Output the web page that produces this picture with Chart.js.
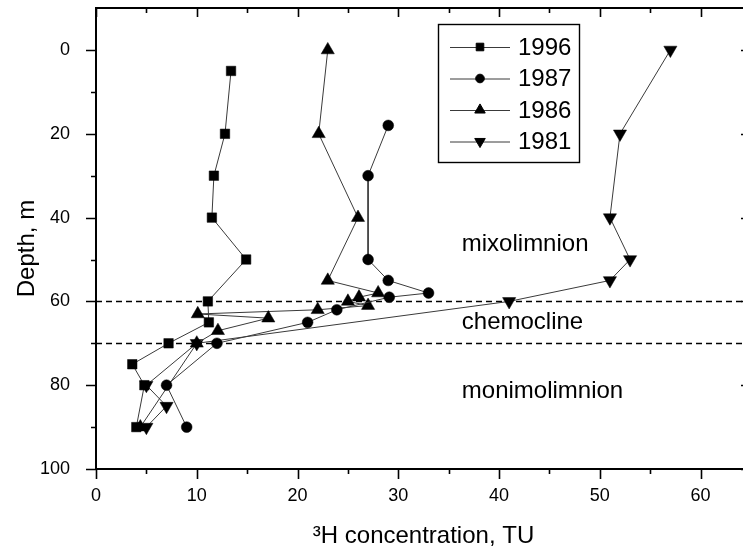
<!DOCTYPE html>
<html><head><meta charset="utf-8">
<script src="https://cdn.jsdelivr.net/npm/chart.js@4.4.1/dist/chart.umd.min.js"></script>
<style>
html,body{margin:0;padding:0;overflow:hidden;background:#fff;width:743px;height:554px}
#wrap{position:absolute;left:0;top:0;width:760px;height:554px}
</style>
</head><body><div id="wrap"><canvas id="c" width="760" height="554"></canvas></div>
<script>
// ---------- data ----------
const seriesLabels = ['1996', '1987', '1986', '1981'];

const depth1996 = [5, 20, 30, 40, 50, 60, 65, 70, 75, 80, 90];
const tu1996    = [13.4, 12.8, 11.7, 11.5, 14.9, 11.1, 11.2, 7.2, 3.6, 4.8, 4.0];

const depth1987 = [18, 30, 50, 55, 58, 59, 62, 65, 70, 80, 90];
const tu1987    = [29.0, 27.0, 27.0, 29.0, 33.0, 29.1, 23.9, 21.0, 12.0, 7.0, 9.0];

const depth1986 = [0, 20, 40, 55, 58, 59, 60, 61, 62, 63, 64, 67, 70, 90];
const tu1986    = [23.0, 22.1, 26.0, 23.0, 28.0, 26.1, 25.0, 27.0, 22.0, 10.1, 17.1, 12.1, 10.0, 4.4];

const depth1981 = [0, 20, 40, 50, 55, 60, 70, 80, 85, 90];
const tu1981    = [57.0, 52.0, 51.0, 53.0, 51.0, 41.0, 10.0, 5.0, 7.0, 5.0];

const xTickLabels = [0, 10, 20, 30, 40, 50, 60];
const yTickLabels = [0, 20, 40, 60, 80, 100];
const boundaryDepths = [60, 70];
const zoneNames = ['mixolimnion', 'chemocline', 'monimolimnion'];
const xTitle = '\u00B3H concentration, TU';
const yTitle = 'Depth, m';

// ---------- layout / style ----------
const FONT = 'Arial, "Liberation Sans", sans-serif';
const zonePlacement = [{x: 36.3, y: 48.0}, {x: 36.3, y: 66.7}, {x: 36.3, y: 83.1}];
const markerStyles = [
  {pointStyle: 'rect', radius: 6.7, rotation: 0},
  {pointStyle: 'circle', radius: 5.4, rotation: 0},
  {pointStyle: 'triangle', radius: 7.6, rotation: 0},
  {pointStyle: 'triangle', radius: 7.6, rotation: 180}
];

function pts(xs, ys) { return xs.map((v, i) => ({x: v, y: ys[i]})); }
const seriesData = [pts(tu1996, depth1996), pts(tu1987, depth1987), pts(tu1986, depth1986), pts(tu1981, depth1981)];

const datasets = seriesLabels.map((lab, i) => ({
  label: lab,
  data: seriesData[i],
  showLine: true,
  borderColor: '#3a3a3a',
  borderWidth: 1,
  backgroundColor: '#000',
  pointBackgroundColor: '#000',
  pointBorderColor: '#000',
  pointBorderWidth: 0.5,
  pointStyle: markerStyles[i].pointStyle,
  pointRadius: markerStyles[i].radius,
  pointRotation: markerStyles[i].rotation,
  pointHoverRadius: markerStyles[i].radius,
  tension: 0
}));

function noPad(s) { s.paddingTop = 0; s.paddingBottom = 0; s.paddingLeft = 0; s.paddingRight = 0; }

const framePlugin = {
  id: 'frame',
  beforeDatasetsDraw(chart) {
    const {ctx, chartArea: a, scales: {x, y}} = chart;
    ctx.save();
    ctx.strokeStyle = '#000';
    ctx.lineWidth = 1.3;
    ctx.setLineDash([6, 4]);
    boundaryDepths.forEach(d => {
      const py = Math.round(y.getPixelForValue(d)) + 0.5;
      ctx.beginPath(); ctx.moveTo(a.left, py); ctx.lineTo(a.right, py); ctx.stroke();
    });
    ctx.setLineDash([]);
    ctx.fillStyle = '#000';
    ctx.font = '24px ' + FONT;
    ctx.textAlign = 'left';
    ctx.textBaseline = 'alphabetic';
    zoneNames.forEach((t, i) => {
      ctx.fillText(t, x.getPixelForValue(zonePlacement[i].x), y.getPixelForValue(zonePlacement[i].y));
    });
    ctx.restore();
  },
  afterDraw(chart) {
    const {ctx, chartArea: a, scales: {x, y}} = chart;
    ctx.save();
    ctx.strokeStyle = '#000';
    ctx.lineWidth = 2;
    ctx.beginPath();
    ctx.moveTo(a.left, a.top); ctx.lineTo(a.right, a.top); ctx.lineTo(a.right, a.bottom);
    ctx.stroke();
    ctx.lineWidth = 1.6;
    for (let v = x.min; v <= x.max + 1e-9; v += 5) {
      const px = Math.round(x.getPixelForValue(v)) + 0.5;
      const major = Math.abs(v % 10) < 1e-9;
      const L = major ? 10 : 5;
      ctx.beginPath();
      ctx.moveTo(px, a.bottom); ctx.lineTo(px, a.bottom + L);
      ctx.moveTo(px, a.top); ctx.lineTo(px, a.top + (major ? 9 : 5));
      ctx.stroke();
    }
    for (let v = 0; v <= y.max + 1e-9; v += 10) {
      const py = Math.round(y.getPixelForValue(v)) + 0.5;
      const major = Math.abs(v % 20) < 1e-9;
      const L = major ? 10 : 5;
      ctx.beginPath();
      ctx.moveTo(a.left, py); ctx.lineTo(a.left - L, py);
      ctx.moveTo(a.right, py); ctx.lineTo(a.right - L, py);
      ctx.stroke();
    }
    // legend box
    const bx = 438, by = 24, bw = 141, bh = 138;
    ctx.lineWidth = 1.4;
    ctx.strokeRect(bx + 0.5, by + 0.5, bw, bh);
    chart.data.datasets.forEach((ds, i) => {
      const cy = by + 23 + i * 31.5;
      ctx.strokeStyle = '#3a3a3a';
      ctx.lineWidth = 1;
      ctx.beginPath(); ctx.moveTo(bx + 12, cy + 0.5); ctx.lineTo(bx + 72, cy + 0.5); ctx.stroke();
      ctx.fillStyle = '#000';
      ctx.strokeStyle = '#000';
      Chart.helpers.drawPoint(ctx, {
        pointStyle: ds.pointStyle, radius: ds.pointRadius * 0.8, rotation: ds.pointRotation, borderWidth: 0.5
      }, bx + 42, cy);
      ctx.font = '24px ' + FONT;
      ctx.textAlign = 'left';
      ctx.textBaseline = 'middle';
      ctx.fillText(ds.label, bx + 80, cy + 1);
    });
    ctx.restore();
  }
};

Chart.defaults.color = '#000';
Chart.defaults.font.family = FONT;

new Chart(document.getElementById('c'), {
  type: 'scatter',
  data: {datasets},
  options: {
    responsive: false,
    devicePixelRatio: 1,
    animation: false,
    events: [],
    layout: {padding: {top: 3, right: 9, left: 0, bottom: 0}},
    plugins: {legend: {display: false}, tooltip: {enabled: false}},
    scales: {
      x: {
        type: 'linear', position: 'bottom', min: 0, max: 65,
        ticks: {stepSize: 10, padding: 8, font: {size: 18}, color: '#000',
          callback: v => xTickLabels.includes(v) ? String(v) : ''},
        grid: {display: false},
        border: {display: true, color: '#000', width: 2},
        title: {display: true, text: xTitle, font: {size: 24}, color: '#000', padding: {top: 0, bottom: 3}},
        afterFit: s => { s.height = 85; noPad(s); }
      },
      y: {
        type: 'linear', position: 'left', reverse: true, min: -10, max: 100,
        ticks: {stepSize: 20, padding: 18, font: {size: 18}, color: '#000',
          callback: v => yTickLabels.includes(v) ? String(v) : ''},
        grid: {display: false},
        border: {display: true, color: '#000', width: 2},
        title: {display: true, text: yTitle + '   ', font: {size: 24}, color: '#000', padding: {top: 13, bottom: 0}},
        afterFit: s => { s.width = 96; noPad(s); }
      }
    }
  },
  plugins: [framePlugin]
});
</script>
</body></html>
